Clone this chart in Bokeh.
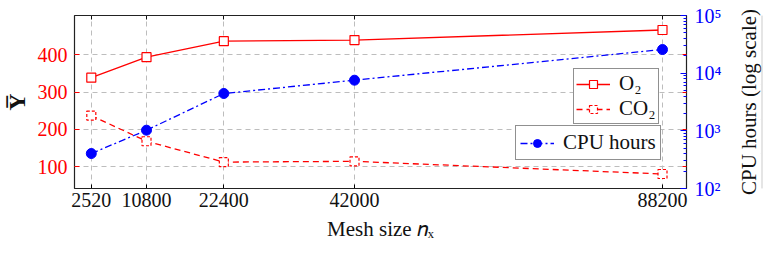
from bokeh.plotting import figure
from bokeh.layouts import row
from bokeh.models import (LinearAxis, LogAxis, Range1d, FixedTicker, Legend,
                          LegendItem, LogScale)
from bokeh.embed import file_html
from bokeh.resources import INLINE

# Mesh sizes and the measured quantities at each one
mesh = [2520, 10800, 22400, 42000, 88200]
o2 = [339, 394, 437, 440, 467]
co2 = [237, 168, 112, 114, 80]
cpu_hours = [404, 1026, 4440, 7550, 25700]

left_ticks = [100, 200, 300, 400]
right_ticks = [100, 1000, 10000, 100000]
right_tick_labels = {100: "10²", 1000: "10³", 10000: "10⁴", 100000: "10⁵"}

FONT = "Liberation Serif"
RED = "#ff0000"
BLUE = "#0000ff"
INK = "#111111"

p = figure(width=733, height=268, output_backend="svg", toolbar_location=None,
           x_range=Range1d(0, 91800), y_range=Range1d(41, 506),
           min_border_left=74, min_border_right=47, min_border_top=15,
           min_border_bottom=80, x_axis_location=None, y_axis_location=None)
p.outline_line_color = "#222222"
p.outline_line_width = 1.2
p.background_fill_color = "white"

# secondary logarithmic range for the run cost
p.extra_y_ranges = {"cpu": Range1d(100, 100000)}
p.extra_y_scales = {"cpu": LogScale()}


def tick_only_axis(axis, ticks, color):
    """Inward ticks without labels, mirrored on the opposite side of the box."""
    axis.ticker = FixedTicker(ticks=ticks)
    axis.axis_line_color = None
    axis.major_tick_in = 4
    axis.major_tick_out = 0
    axis.major_tick_line_color = color
    axis.minor_tick_line_color = None
    axis.major_label_text_font_size = "1px"
    axis.major_label_text_color = None
    axis.major_label_standoff = 0
    return axis


# bottom axis
xaxis = LinearAxis(ticker=FixedTicker(ticks=mesh))
xaxis.axis_line_color = None
xaxis.major_tick_in = 4
xaxis.major_tick_out = 0
xaxis.minor_tick_line_color = None
xaxis.major_label_text_font = FONT
xaxis.major_label_text_font_size = "20px"
xaxis.major_label_text_color = INK
xaxis.major_label_standoff = 4
xaxis.axis_label = "Mesh size 𝑛ₓ"
xaxis.axis_label_text_font = FONT
xaxis.axis_label_text_font_size = "21px"
xaxis.axis_label_text_font_style = "normal"
xaxis.axis_label_text_color = INK
xaxis.axis_label_standoff = 7
p.add_layout(xaxis, "below")
p.add_layout(tick_only_axis(LinearAxis(), mesh, INK), "above")

# left axis (mean values)
yaxis = LinearAxis(ticker=FixedTicker(ticks=left_ticks))
yaxis.axis_line_color = None
yaxis.major_tick_in = 5
yaxis.major_tick_out = 0
yaxis.major_tick_line_color = RED
yaxis.minor_tick_line_color = None
yaxis.major_label_text_font = FONT
yaxis.major_label_text_font_size = "20px"
yaxis.major_label_text_color = RED
yaxis.major_label_standoff = 7
yaxis.axis_label = "Y\u0305"
yaxis.axis_label_text_font = FONT
yaxis.axis_label_text_font_size = "24px"
yaxis.axis_label_text_font_style = "bold"
yaxis.axis_label_text_color = INK
yaxis.axis_label_standoff = 5
p.add_layout(yaxis, "left")
p.add_layout(tick_only_axis(LinearAxis(), left_ticks, RED), "right")

# right axis (CPU hours, log scale)
cpu_minor = [m * d for d in right_ticks[:-1] for m in range(2, 10)]
raxis = LogAxis(y_range_name="cpu",
                ticker=FixedTicker(ticks=right_ticks, minor_ticks=cpu_minor))
raxis.axis_line_color = None
raxis.major_tick_in = 6
raxis.major_tick_out = 0
raxis.major_tick_line_color = BLUE
raxis.minor_tick_in = 3
raxis.minor_tick_out = 0
raxis.minor_tick_line_color = BLUE
raxis.major_label_overrides = right_tick_labels
raxis.major_label_text_font = FONT
raxis.major_label_text_font_size = "20px"
raxis.major_label_text_color = BLUE
raxis.major_label_standoff = 8
p.add_layout(raxis, "right")

# dashed grid at the tick positions
p.xgrid.ticker = FixedTicker(ticks=mesh)
p.ygrid.ticker = FixedTicker(ticks=left_ticks)
for g in (p.xgrid, p.ygrid):
    g.grid_line_color = "#bdbdbd"
    g.grid_line_dash = "5 4"
    g.grid_line_width = 1

# series
cpu_line = p.line(mesh, cpu_hours, y_range_name="cpu", line_color=BLUE,
                  line_width=1.3, line_dash="7 3 2 3")
cpu_pts = p.scatter(mesh, cpu_hours, y_range_name="cpu", marker="circle", size=10,
                    fill_color=BLUE, line_color=BLUE)

co2_line = p.line(mesh, co2, line_color=RED, line_width=1.3, line_dash="6 4")
co2_pts = p.scatter(mesh, co2, marker="square", size=9, fill_color="white",
                    line_color=RED, line_width=1.2, line_dash="3 2")

o2_line = p.line(mesh, o2, line_color=RED, line_width=1.3)
o2_pts = p.scatter(mesh, o2, marker="square", size=9, fill_color="white",
                   line_color=RED, line_width=1.2)


def styled_legend(items, location, padding):
    leg = Legend(items=items, location=location)
    leg.border_line_color = "#222222"
    leg.border_line_width = 1
    leg.background_fill_color = "white"
    leg.background_fill_alpha = 1
    leg.label_text_font = FONT
    leg.label_text_font_size = "21px"
    leg.label_text_color = INK
    leg.glyph_width = 34
    leg.glyph_height = 20
    leg.label_standoff = 9
    leg.label_height = 20
    leg.padding = padding
    leg.spacing = 0
    leg.margin = 0
    return leg


gas_legend = styled_legend([
    LegendItem(label="O₂", renderers=[o2_line, o2_pts]),
    LegendItem(label="CO₂", renderers=[co2_line, co2_pts]),
], (499, 64), 2)
cpu_legend = styled_legend([
    LegendItem(label="CPU hours", renderers=[cpu_line, cpu_pts]),
], (441, 28), 4)
p.add_layout(gas_legend)
p.add_layout(cpu_legend)

# narrow strip to the right carrying the title of the log axis,
# read bottom-to-top like the left title
title_strip = figure(width=30, height=268, output_backend="svg", toolbar_location=None,
                     x_range=Range1d(0, 1), y_range=Range1d(0, 1),
                     min_border_left=0, min_border_right=0, min_border_top=15,
                     min_border_bottom=80, x_axis_location=None, y_axis_location=None)
title_strip.outline_line_color = None
title_strip.background_fill_color = "white"
title_strip.border_fill_color = "white"
strip_axis = LinearAxis(ticker=FixedTicker(ticks=[0.5]))
strip_axis.axis_line_color = None
strip_axis.major_tick_line_color = None
strip_axis.major_tick_in = 0
strip_axis.major_tick_out = 0
strip_axis.minor_tick_line_color = None
strip_axis.major_label_text_font_size = "1px"
strip_axis.major_label_text_color = None
strip_axis.major_label_standoff = 0
strip_axis.axis_label = "CPU hours (log scale)"
strip_axis.axis_label_text_font = FONT
strip_axis.axis_label_text_font_size = "21px"
strip_axis.axis_label_text_font_style = "normal"
strip_axis.axis_label_text_color = INK
strip_axis.axis_label_standoff = 0
title_strip.add_layout(strip_axis, "left")

open("out.html", "w").write(file_html(row(p, title_strip), INLINE))
